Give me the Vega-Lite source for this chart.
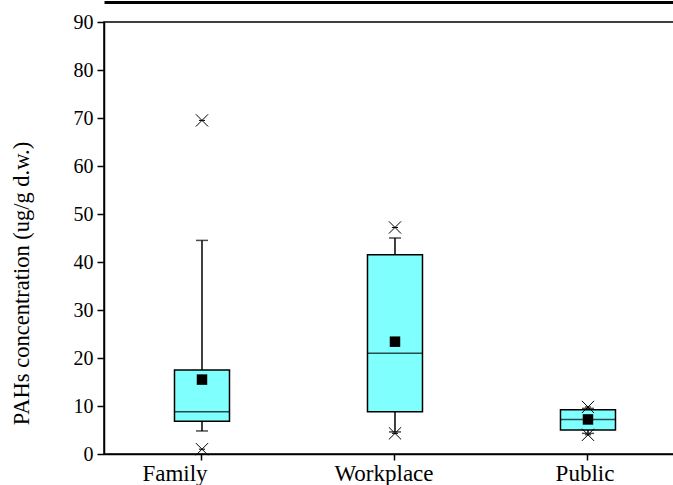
{
  "$schema": "https://vega.github.io/schema/vega-lite/v6.json",
  "width": 571,
  "height": 432,
  "autosize": {"type": "none"},
  "padding": {"left": 104, "top": 22, "right": 0, "bottom": 31},
  "background": "white",
  "data": {
    "values": [
      {"group": "Family", "p1": 1.0, "wl": 4.8, "q1": 6.8, "median": 8.8, "q3": 17.5, "wh": 44.5, "p99": 69.5, "mean": 15.5},
      {"group": "Workplace", "p1": 4.3, "wl": 4.6, "q1": 8.8, "median": 21.0, "q3": 41.5, "wh": 45.0, "p99": 47.2, "mean": 23.4},
      {"group": "Public", "p1": 4.0, "wl": 4.3, "q1": 5.0, "median": 7.2, "q3": 9.2, "wh": 9.5, "p99": 9.8, "mean": 7.2}
    ]
  },
  "encoding": {
    "x": {
      "field": "group",
      "type": "nominal",
      "sort": ["Family", "Workplace", "Public"],
      "scale": {"type": "band", "paddingInner": 0.5, "paddingOuter": 0.2293, "align": 0.562, "round": false},
      "axis": null
    }
  },
  "layer": [
    {
      "mark": {"type": "rule", "color": "black", "strokeWidth": 1.5},
      "encoding": {
        "x": {
          "field": "group",
          "type": "nominal",
          "sort": ["Family", "Workplace", "Public"],
          "scale": {"type": "band", "paddingInner": 0.5, "paddingOuter": 0.2293, "align": 0.562, "round": false},
          "axis": {
            "title": null,
            "labelAngle": 0,
            "labelFontSize": 23,
            "labelPadding": 2,
            "tickSize": 6,
            "labelOffset": {"condition": [{"test": "datum.value == 'Family'", "value": -27}, {"test": "datum.value == 'Workplace'", "value": -11}], "value": -3}
          }
        },
        "y": {"field": "wl", "type": "quantitative", "scale": {"domain": [0, 90], "nice": false},
          "axis": {
            "title": "PAHs concentration (ug/g d.w.)",
            "values": [0, 10, 20, 30, 40, 50, 60, 70, 80, 90],
            "labelFontSize": 20,
            "labelPadding": 4,
            "tickSize": 7,
            "titleFontSize": 22.5,
            "titleFontWeight": "normal",
            "titleX": -83,
            "titleY": 261,
            "titleBaseline": "middle",
            "titleAlign": "center"
          }
        },
        "y2": {"field": "wh"}
      }
    },
    {
      "mark": {"type": "bar", "width": 55, "fill": "#80ffff", "stroke": "black", "strokeWidth": 1.5},
      "encoding": {
        "x": {
          "field": "group",
          "type": "nominal",
          "sort": ["Family", "Workplace", "Public"],
          "scale": {"type": "band", "paddingInner": 0.5, "paddingOuter": 0.2293, "align": 0.562, "round": false},
          "axis": {"orient": "top", "title": null, "labels": false, "ticks": false, "offset": 20, "domainWidth": 3}
        },
        "y": {"field": "q1", "type": "quantitative"},
        "y2": {"field": "q3"}
      }
    },
    {
      "mark": {"type": "tick", "color": "black", "thickness": 1.5, "size": 55},
      "encoding": {"y": {"field": "median", "type": "quantitative"}}
    },
    {
      "mark": {"type": "tick", "color": "black", "thickness": 1.5, "size": 12},
      "encoding": {"y": {"field": "wl", "type": "quantitative"}}
    },
    {
      "mark": {"type": "tick", "color": "black", "thickness": 1.5, "size": 12},
      "encoding": {"y": {"field": "wh", "type": "quantitative"}}
    },
    {
      "mark": {"type": "point", "shape": "square", "filled": true, "color": "black", "size": 110, "opacity": 1},
      "encoding": {"y": {"field": "mean", "type": "quantitative"}}
    },
    {
      "mark": {"type": "point", "shape": "M-1,-1L1,1M-1,1L1,-1M-0.5,0L0.5,0", "filled": false, "stroke": "black", "strokeWidth": 1, "size": 150, "opacity": 1},
      "encoding": {"y": {"field": "p1", "type": "quantitative"}}
    },
    {
      "mark": {"type": "point", "shape": "M-1,-1L1,1M-1,1L1,-1M-0.5,0L0.5,0", "filled": false, "stroke": "black", "strokeWidth": 1, "size": 150, "opacity": 1},
      "encoding": {"y": {"field": "p99", "type": "quantitative"}}
    }
  ],
  "resolve": {"axis": {"x": "independent"}},
  "config": {
    "font": "Liberation Serif",
    "view": {"stroke": "black", "strokeWidth": 1.5},
    "axis": {
      "grid": false,
      "domainColor": "black",
      "domainWidth": 1.5,
      "tickColor": "black",
      "tickWidth": 1.5,
      "labelColor": "black",
      "titleColor": "black",
      "labelFont": "Liberation Serif",
      "titleFont": "Liberation Serif"
    }
  }
}
